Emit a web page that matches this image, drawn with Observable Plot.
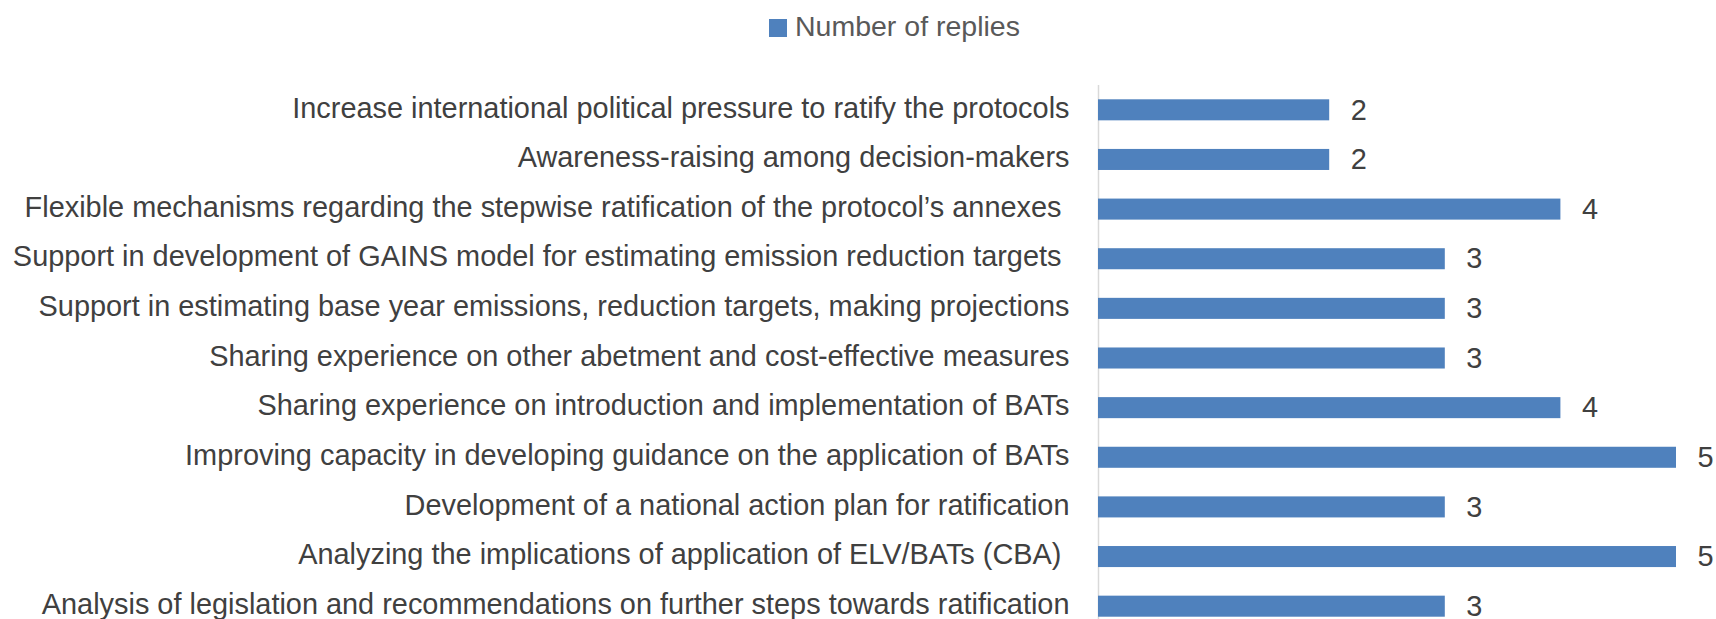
<!DOCTYPE html>
<html>
<head>
<meta charset="utf-8">
<script src="https://cdn.jsdelivr.net/npm/d3@7"></script>
<script src="https://cdn.jsdelivr.net/npm/@observablehq/plot@0.6"></script>
<style>
  html, body { margin: 0; padding: 0; background: #ffffff; overflow: hidden; }
  #wrap { position: relative; width: 1716px; height: 619px; overflow: hidden; background: #fff; }
  #legend { position: relative; height: 56px; font-family: "Liberation Sans", Arial, sans-serif; font-size: 28.5px; color: #595959; }
  #legend .sw { position: absolute; left: 769px; top: 19px; width: 18px; height: 18px; background: #4F81BD; }
  #legend .lb { position: absolute; left: 795px; top: 10px; line-height: 32px; white-space: nowrap; }
  #chart svg { display: block; }
  svg text { white-space: pre; }
</style>
</head>
<body>
<div id="wrap">
  <div id="legend"><span class="sw"></span><span class="lb" id="legendText"></span></div>
  <div id="chart"></div>
</div>
<script>
const seriesName = "Number of replies";
const categories = [
  "Increase international political pressure to ratify the protocols",
  "Awareness-raising among decision-makers",
  "Flexible mechanisms regarding the stepwise ratification of the protocol\u2019s annexes ",
  "Support in development of GAINS model for estimating emission reduction targets ",
  "Support in estimating base year emissions, reduction targets, making projections",
  "Sharing experience on other abetment and cost-effective measures",
  "Sharing experience on introduction and implementation of BATs",
  "Improving capacity in developing guidance on the application of BATs",
  "Development of a national action plan for ratification",
  "Analyzing the implications of application of ELV/BATs (CBA) ",
  "Analysis of legislation and recommendations on further steps towards ratification"
];
const values = [2, 2, 4, 3, 3, 3, 4, 5, 3, 5, 3];

const data = categories.map((c, i) => ({category: c, value: values[i]}));
document.getElementById("legendText").textContent = seriesName;

const FONT = "Liberation Sans, Arial, sans-serif";
const FS = 28.9;

const chart = Plot.plot({
  width: 1716,
  height: 575,
  marginTop: 29,
  marginBottom: 0,
  marginLeft: 1098,
  marginRight: 40,
  style: {fontFamily: FONT, fontSize: FS + "px", color: "#404040", background: "white", overflow: "visible"},
  x: {domain: [0, 5], axis: null},
  y: {domain: categories, padding: 0, round: false, axis: null},
  marks: [
    Plot.ruleX([0], {stroke: "#d9d9d9", strokeWidth: 1.5}),
    Plot.barX(data, {x: "value", y: "category", fill: "#4F81BD", insetTop: 14.3, insetBottom: 14.3}),
    Plot.text(data, {x: "value", y: "category", text: d => String(d.value), textAnchor: "start", dx: 21, fill: "#404040", fontSize: FS}),
    Plot.axisY({tickSize: 0, tickPadding: 29, dy: -2, fontSize: FS, fill: "#404040", label: null, textOverflow: null})
  ]
});
document.getElementById("chart").appendChild(chart);
</script>
</body>
</html>
